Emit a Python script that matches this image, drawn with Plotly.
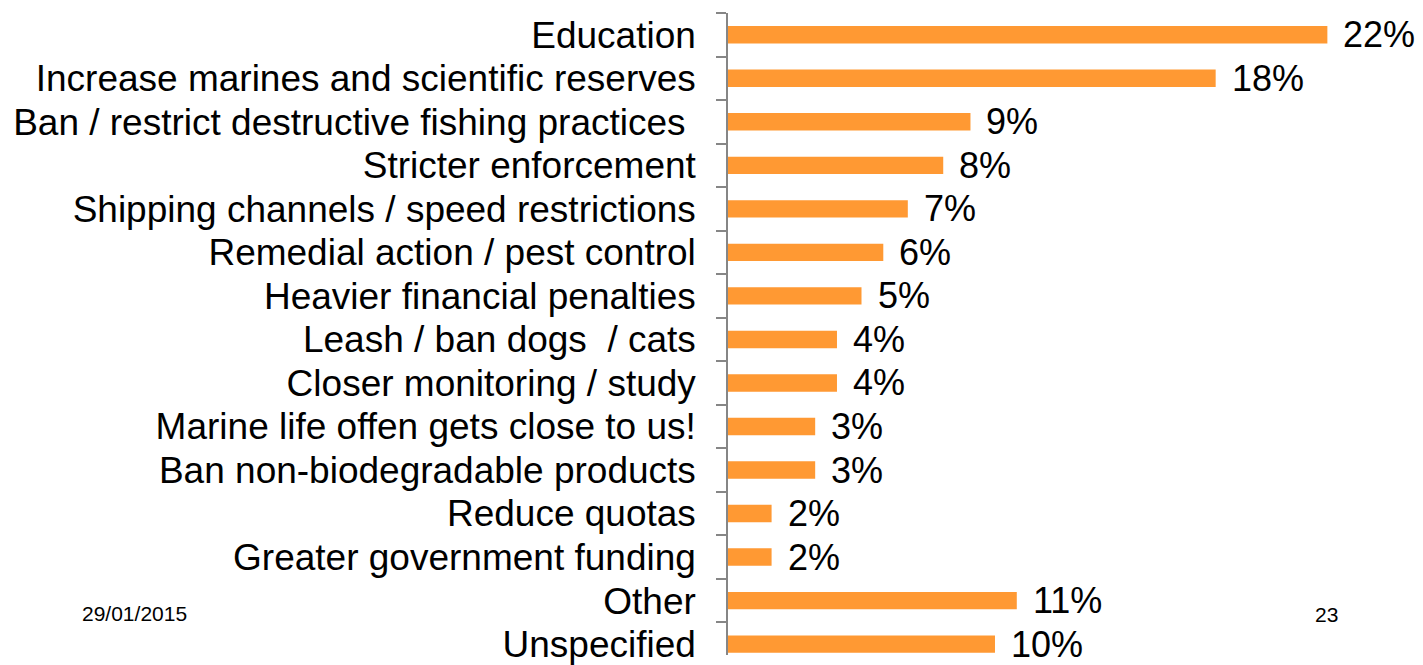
import plotly.graph_objects as go

# survey answers, top to bottom
categories = [
    "Education",
    "Increase marines and scientific reserves",
    "Ban / restrict destructive fishing practices ",
    "Stricter enforcement",
    "Shipping channels / speed restrictions",
    "Remedial action / pest control",
    "Heavier financial penalties",
    "Leash / ban dogs  / cats",
    "Closer monitoring / study",
    "Marine life offen gets close to us!",
    "Ban non-biodegradable products",
    "Reduce quotas",
    "Greater government funding",
    "Other",
    "Unspecified",
]
shares = [22.0, 17.9, 8.9, 7.9, 6.6, 5.7, 4.9, 4.0, 4.0, 3.2, 3.2, 1.6, 1.6, 10.6, 9.8]
labels = ["22%", "18%", "9%", "8%", "7%", "6%", "5%", "4%", "4%", "3%", "3%",
          "2%", "2%", "11%", "10%"]

FONT = "Liberation Sans, Arial, sans-serif"

# page has an 8px body margin, so the figure is a bit smaller than the window
W, H = 1415, 657
L, T = 720, 5
plot_w, plot_h = W - L, H - T


def paper_x(px):
    return (px - 8 - L) / plot_w


def paper_y(py):
    return 1 - (py - 8 - T) / plot_h


fig = go.Figure(
    go.Bar(
        x=shares,
        y=categories,
        orientation="h",
        marker=dict(color="#FF9933", line=dict(width=0)),
        hoverinfo="skip",
    )
)

for val, cat, lab in zip(shares, categories, labels):
    fig.add_annotation(
        x=val, y=cat, text=lab, showarrow=False,
        xanchor="left", yanchor="middle", xshift=14,
        font=dict(size=36, color="black", family=FONT),
    )

# footer text
fig.add_annotation(text="29/01/2015", x=paper_x(80), y=paper_y(623), xref="paper",
                   yref="paper", showarrow=False, xanchor="left", yanchor="middle",
                   font=dict(size=21, color="black", family=FONT))
fig.add_annotation(text="23", x=paper_x(1326), y=paper_y(624), xref="paper",
                   yref="paper", showarrow=False, xanchor="center", yanchor="middle",
                   font=dict(size=21, color="black", family=FONT))

fig.update_layout(
    width=W,
    height=H,
    margin=dict(l=L, r=0, t=T, b=0),
    paper_bgcolor="white",
    plot_bgcolor="white",
    bargap=0.6,
    showlegend=False,
    font=dict(family=FONT, color="black"),
    xaxis=dict(range=[0, 25.51], visible=False, fixedrange=True),
    yaxis=dict(
        categoryorder="array",
        categoryarray=categories,
        range=[14.25, -0.5],
        tickmode="linear",
        tick0=0,
        dtick=1,
        showline=True,
        linecolor="#868686",
        linewidth=1.5,
        ticks="outside",
        tickson="boundaries",
        ticklen=10,
        tickwidth=1.5,
        tickcolor="#868686",
        ticklabelstandoff=23,
        tickfont=dict(size=37, color="black", family=FONT),
        showgrid=False,
        zeroline=False,
        fixedrange=True,
    ),
)

fig.write_html("out.html")
